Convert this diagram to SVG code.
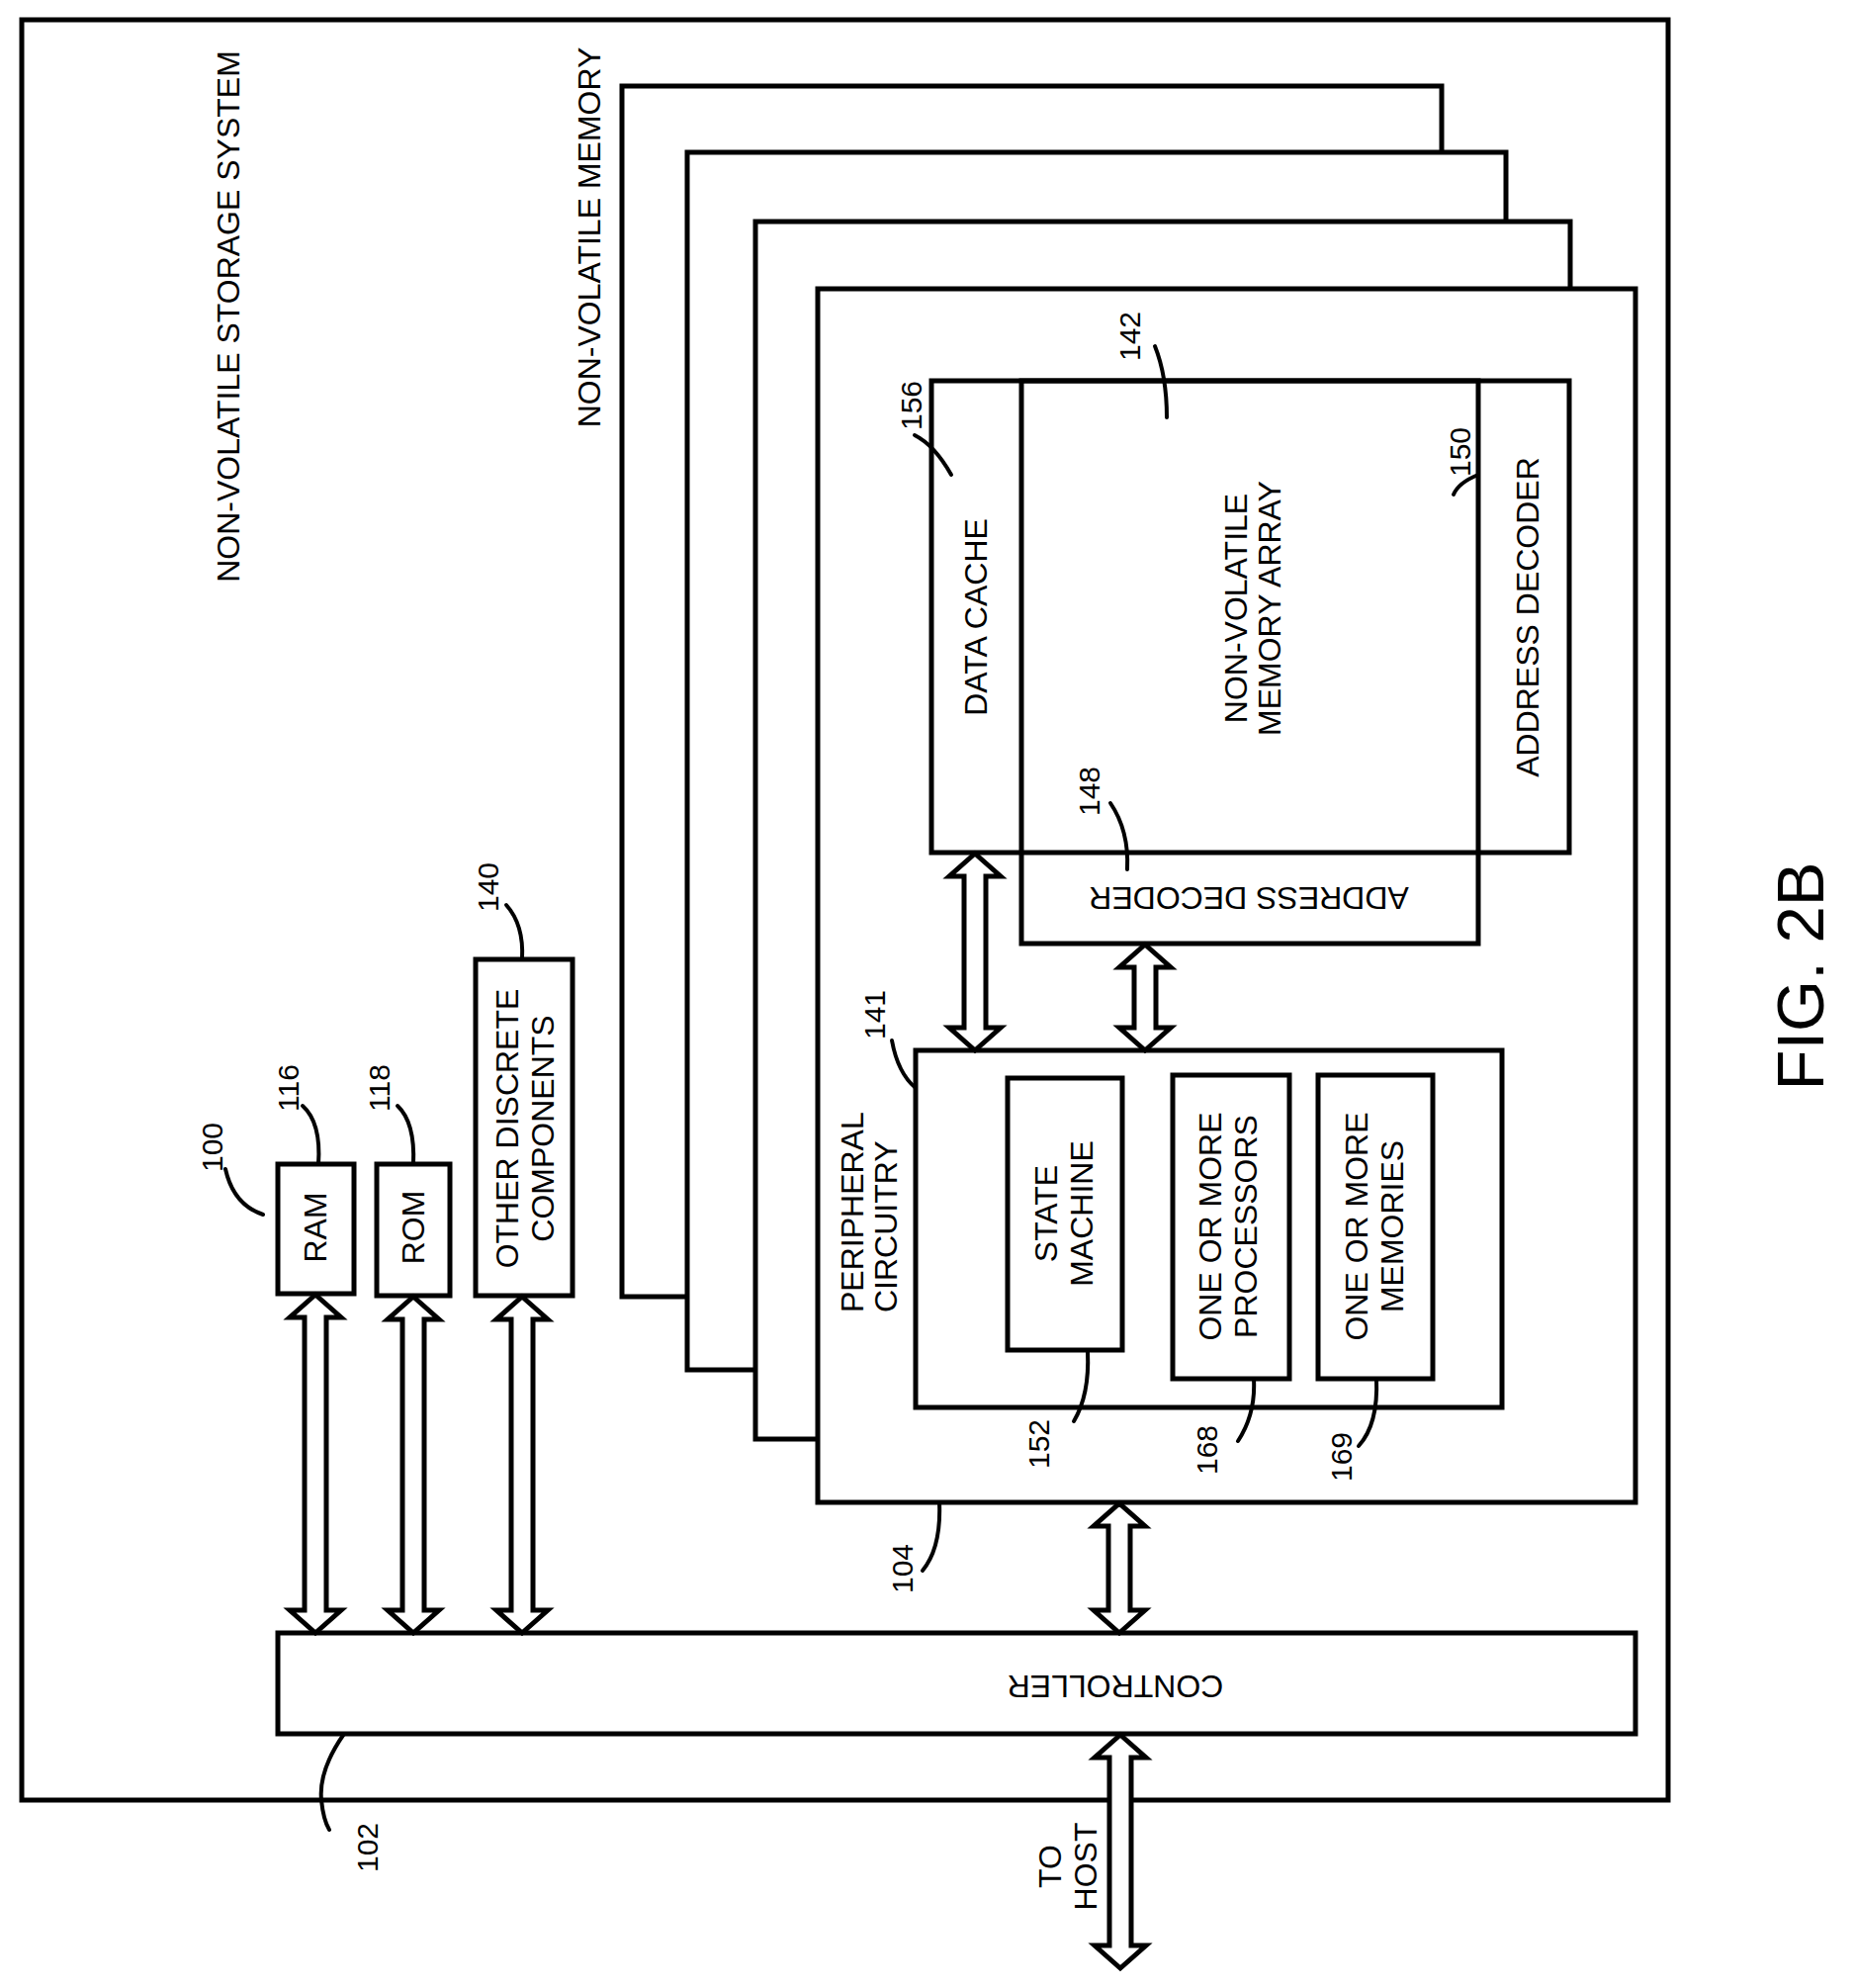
<svg xmlns="http://www.w3.org/2000/svg" width="1875" height="2010" viewBox="0 0 1875 2010">
<style>
.b{fill:#fff;stroke:#000;stroke-width:5}
.n{fill:none;stroke:#000;stroke-width:5}
.ar{fill:#fff;stroke:#000;stroke-width:5;stroke-linejoin:miter}
.ld{fill:none;stroke:#000;stroke-width:4;stroke-linecap:round}
text{font-family:"Liberation Sans",Arial,sans-serif;font-size:32px;fill:#000}
.m{text-anchor:middle}
.r{font-size:30px;text-anchor:middle}
</style>
<rect width="1875" height="2010" fill="#fff"/>
<g id="system"><rect class="b" x="22" y="20" width="1665" height="1800"/>
<text class="m" transform="translate(242,320) rotate(-90)">NON-VOLATILE STORAGE SYSTEM</text></g>
<g id="memory">
<rect class="b" x="629" y="87" width="829" height="1224"/>
<rect class="b" x="695" y="154" width="828" height="1231"/>
<rect class="b" x="764" y="224" width="824" height="1231"/>
<rect class="b" x="827" y="292" width="827" height="1227"/>
<text class="m" transform="translate(607,240) rotate(-90)">NON-VOLATILE MEMORY</text></g>
<g id="array">
<rect class="n" x="942" y="385" width="645" height="477"/>
<rect class="n" x="1033" y="385" width="462" height="569"/>
<text class="m" transform="translate(998,624) rotate(-90)">DATA CACHE</text>
<text class="m" transform="translate(1261,615) rotate(-90)">NON-VOLATILE</text>
<text class="m" transform="translate(1295,615) rotate(-90)">MEMORY ARRAY</text>
<text class="m" transform="translate(1556,624) rotate(-90)">ADDRESS DECODER</text>
<text class="m" transform="translate(1263,897) rotate(180)">ADDRESS DECODER</text></g>
<g id="peripheral">
<rect class="n" x="926" y="1062" width="593" height="361"/>
<text transform="translate(873,1327) rotate(-90)">PERIPHERAL</text>
<text transform="translate(907,1327) rotate(-90)">CIRCUITRY</text>
<rect class="n" x="1019" y="1090" width="116" height="275"/>
<text class="m" transform="translate(1069,1227) rotate(-90)">STATE</text>
<text class="m" transform="translate(1105,1227) rotate(-90)">MACHINE</text>
<rect class="n" x="1186" y="1087" width="118" height="307"/>
<text class="m" transform="translate(1235,1240) rotate(-90)">ONE OR MORE</text>
<text class="m" transform="translate(1271,1240) rotate(-90)">PROCESSORS</text>
<rect class="n" x="1333" y="1087" width="116" height="307"/>
<text class="m" transform="translate(1383,1240) rotate(-90)">ONE OR MORE</text>
<text class="m" transform="translate(1419,1240) rotate(-90)">MEMORIES</text></g>
<g id="ram"><rect class="n" x="281" y="1177" width="77" height="131"/>
<text class="m" transform="translate(330,1241) rotate(-90)">RAM</text></g>
<g id="rom"><rect class="n" x="381" y="1177" width="74" height="133"/>
<text class="m" transform="translate(429,1241) rotate(-90)">ROM</text></g>
<g id="other"><rect class="n" x="481" y="970" width="98" height="340"/>
<text class="m" transform="translate(524,1141) rotate(-90)">OTHER DISCRETE</text>
<text class="m" transform="translate(560,1141) rotate(-90)">COMPONENTS</text></g>
<g id="controller"><rect class="b" x="281" y="1651" width="1373" height="102"/>
<text class="m" transform="translate(1128,1694) rotate(180)">CONTROLLER</text></g>
<g id="connectors">
<path class="ar" d="M319,1309 L345,1332 L330,1332 L330,1628 L345,1628 L319,1651 L293,1628 L308,1628 L308,1332 L293,1332 Z"/>
<path class="ar" d="M418,1311 L444,1334 L429,1334 L429,1628 L444,1628 L418,1651 L392,1628 L407,1628 L407,1334 L392,1334 Z"/>
<path class="ar" d="M528,1311 L554,1334 L539,1334 L539,1628 L554,1628 L528,1651 L502,1628 L517,1628 L517,1334 L502,1334 Z"/>
<path class="ar" d="M1132,1520 L1158,1543 L1143,1543 L1143,1628 L1158,1628 L1132,1651 L1106,1628 L1121,1628 L1121,1543 L1106,1543 Z"/>
<path class="ar" d="M986,863 L1012,886 L997,886 L997,1039 L1012,1039 L986,1062 L960,1039 L975,1039 L975,886 L960,886 Z"/>
<path class="ar" d="M1158,955 L1184,978 L1169,978 L1169,1039 L1184,1039 L1158,1062 L1132,1039 L1147,1039 L1147,978 L1132,978 Z"/>
<path class="ar" d="M1133,1754 L1159,1777 L1144,1777 L1144,1967 L1159,1967 L1133,1990 L1107,1967 L1122,1967 L1122,1777 L1107,1777 Z"/>
<text class="m" transform="translate(1073,1887) rotate(-90)">TO</text>
<text class="m" transform="translate(1109,1887) rotate(-90)">HOST</text></g>
<g id="refs">
<text class="r" transform="translate(225,1160) rotate(-90)">100</text>
<path class="ld" d="M228,1182 Q236,1218 266,1228"/>
<text class="r" transform="translate(302,1100) rotate(-90)">116</text>
<path class="ld" d="M306,1118 Q325,1135 322,1177"/>
<text class="r" transform="translate(394,1100) rotate(-90)">118</text>
<path class="ld" d="M402,1118 Q420,1135 418,1177"/>
<text class="r" transform="translate(504,897) rotate(-90)">140</text>
<path class="ld" d="M512,915 Q530,935 528,970"/>
<text class="r" transform="translate(895,1026) rotate(-90)">141</text>
<path class="ld" d="M902,1052 Q908,1085 926,1100"/>
<text class="r" transform="translate(932,410) rotate(-90)">156</text>
<path class="ld" d="M925,440 Q945,450 962,480"/>
<text class="r" transform="translate(1153,340) rotate(-90)">142</text>
<path class="ld" d="M1168,350 Q1180,380 1180,422"/>
<text class="r" transform="translate(1487,457) rotate(-90)">150</text>
<path class="ld" d="M1495,480 Q1475,488 1470,500"/>
<text class="r" transform="translate(1112,800) rotate(-90)">148</text>
<path class="ld" d="M1123,812 Q1142,840 1140,879"/>
<text class="r" transform="translate(1061,1460) rotate(-90)">152</text>
<path class="ld" d="M1086,1437 Q1102,1410 1100,1367"/>
<text class="r" transform="translate(1231,1466) rotate(-90)">168</text>
<path class="ld" d="M1252,1457 Q1270,1430 1268,1394"/>
<text class="r" transform="translate(1367,1473) rotate(-90)">169</text>
<path class="ld" d="M1374,1462 Q1394,1440 1392,1394"/>
<text class="r" transform="translate(923,1586) rotate(-90)">104</text>
<path class="ld" d="M933,1588 Q952,1565 950,1519"/>
<text class="r" transform="translate(382,1868) rotate(-90)">102</text>
<path class="ld" d="M348,1753 Q322,1790 325,1820 Q327,1840 333,1850"/>
</g>
<text transform="translate(1844,987) rotate(-90)" style="font-size:67px;text-anchor:middle">FIG. 2B</text>
</svg>
